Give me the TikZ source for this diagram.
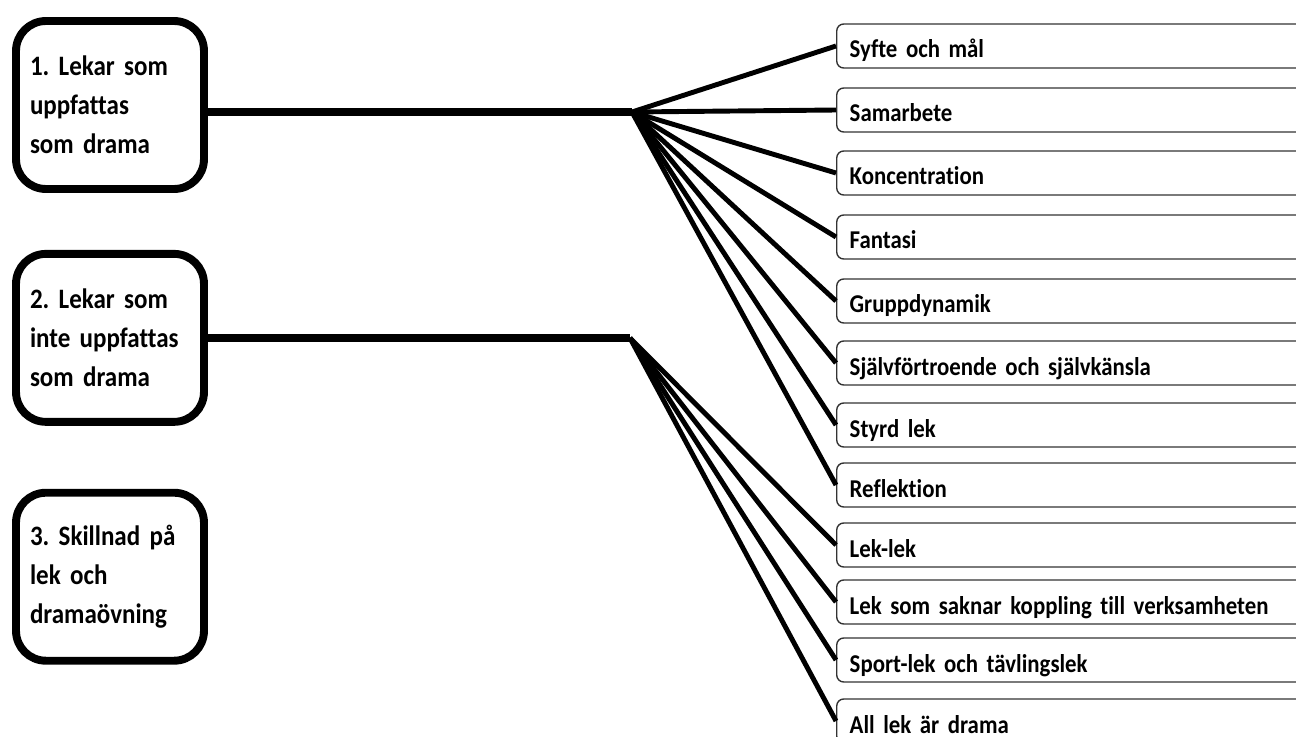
\documentclass[tikz,border=0pt]{standalone}
\usepackage{fontspec}
\setmainfont{Carlito}[Ligatures={NoCommon}, FakeStretch=0.89]
\usetikzlibrary{positioning}
\frenchspacing
\newcommand{\tightspace}{\spaceskip=0.17em plus 0.05em\relax}

\begin{document}
\begin{tikzpicture}[x=0.02cm, y=-0.02cm]
    \path[use as bounding box, clip] (0,0) rectangle (1296,737);
    \tikzset{
        group/.style={draw, line width=4.5pt, rounded corners=17pt, minimum width=3.76cm,
            minimum height=3.36cm, text width=3.2cm, align=left, inner sep=0pt,
            font=\bfseries\fontsize{16}{22.2}\selectfont\tightspace},
        item/.style={draw=black!80, line width=0.8pt, rounded corners=4pt, anchor=west,
            minimum height=0.88cm, text width=9.08cm, inner xsep=0.26cm, inner ysep=0pt,
            text height=0.56cm, text depth=0.08cm,
            align=left, font=\bfseries\fontsize{14.6}{15}\selectfont\tightspace},
        trunk/.style={line width=4.5pt},
        twig/.style={line width=2.8pt}
    }

    % Categories
    \node[group] (cat1) at (110,105) {1. Lekar som\\ uppfattas\\ som drama};
    \node[group, below=1.14cm of cat1] (cat2) {2. Lekar som\\ inte uppfattas\\ som drama};
    \node[group, below=1.26cm of cat2] (cat3) {3. Skillnad på\\ lek och\\ dramaövning};

    % Themes
    \node[item] (syfte) at (836,46) {Syfte och mål};
    \node[item] (samarbete) at (836,110) {Samarbete};
    \node[item] (konc) at (836,173) {Koncentration};
    \node[item] (fantasi) at (836,237) {Fantasi};
    \node[item] (grupp) at (836,301) {Gruppdynamik};
    \node[item] (sjalv) at (836,363) {Självförtroende och självkänsla};
    \node[item] (styrd) at (836,425) {Styrd lek};
    \node[item] (refl) at (836,485) {Reflektion};
    \node[item] (leklek) at (836,545) {Lek-lek};
    \node[item] (saknar) at (836,602) {Lek som saknar koppling till verksamheten};
    \node[item] (sport) at (836,660) {Sport-lek och tävlingslek};
    \node[item] (allek) at (836,721) {All lek är drama};

    % Branch points
    \coordinate (hub1) at (632,112);
    \coordinate (hub2) at (630,338);

    \draw[trunk] (cat1.east |- hub1) -- (hub1);
    \draw[trunk] (cat2.east |- hub2) -- (hub2);
    \foreach \t in {syfte, samarbete, konc, fantasi, grupp, sjalv, styrd, refl}
        \draw[twig] (hub1) -- (\t.west);
    \foreach \t in {leklek, saknar, sport, allek}
        \draw[twig] (hub2) -- (\t.west);
\end{tikzpicture}
\end{document}
